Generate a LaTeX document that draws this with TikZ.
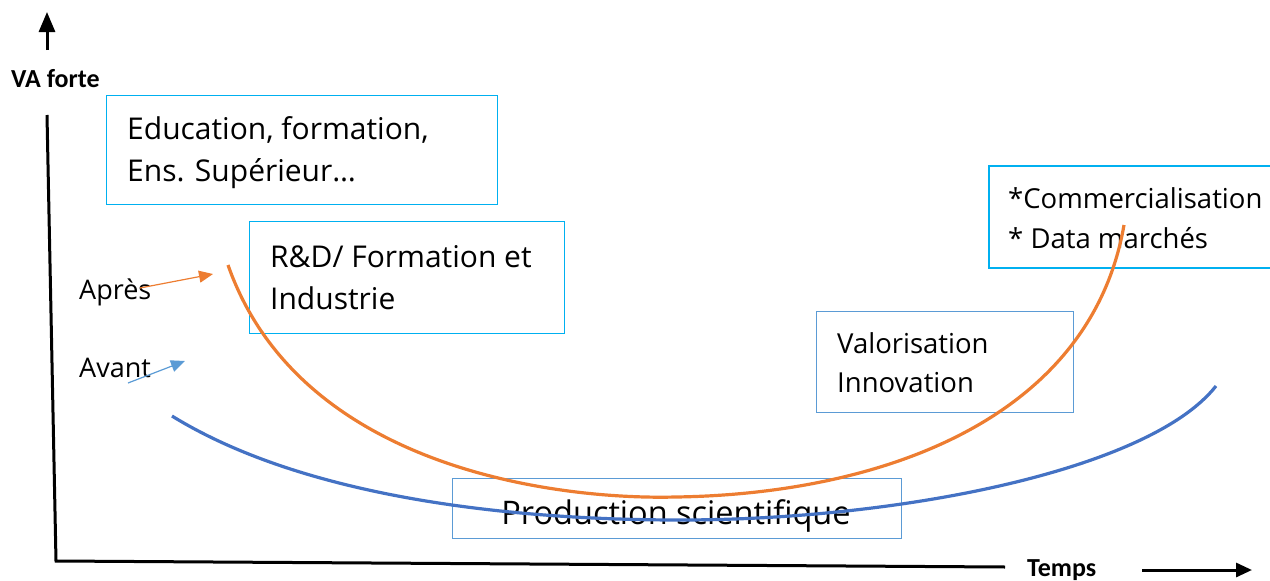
\documentclass[tikz,border=0pt]{standalone}
\usepackage{fontspec}
\setmainfont{Open Sans}
\newfontfamily\calfont{Carlito}
\usetikzlibrary{arrows.meta}
\definecolor{boxcyan}{RGB}{0,176,240}
\definecolor{prodblue}{RGB}{91,155,213}
\definecolor{curveorange}{RGB}{237,125,49}
\definecolor{curveblue}{RGB}{68,114,196}
\begin{document}
\begin{tikzpicture}[x=1pt,y=-1pt,
  box/.style={draw=boxcyan,line width=1.3pt,minimum width=#1,inner sep=0pt,anchor=north west},
  txt/.style={anchor=base west,inner sep=0pt,font=\fontsize{30}{34}\selectfont},
  stxt/.style={anchor=base west,inner sep=0pt,font=\fontsize{27.5}{32}\selectfont},
  ltxt/.style={anchor=base west,inner sep=0pt,font=\fontsize{27}{31}\selectfont},
  axis/.style={line width=3pt,black},
  bold/.style={anchor=base west,inner sep=0pt,font=\calfont\bfseries\fontsize{26}{30}\selectfont}]
\useasboundingbox (0,0) rectangle (1270,581);
% axes
\coordinate (ytop) at (47,115);
\coordinate (orig) at (56,561);
\coordinate (xend) at (1005,567);
\draw[axis] (ytop) -- (orig) -- (xend);
\coordinate (va1) at (47,50);
\coordinate (va2) at (47,12);
\draw[axis,-{Triangle[length=20pt,width=16pt]}] (va1) -- (va2);
\node[bold] (vaforte) at (11,87) {VA forte};
\node[bold] (temps) at (1027,576) {Temps};
\coordinate (t1) at (1142,570);
\coordinate (t2) at (1252,570);
\draw[axis,-{Triangle[length=16pt,width=14pt]}] (t1) -- (t2);
% boxes
\node[box=391pt,minimum height=109pt] (edubox) at (106,95) {};
\node[txt] (edu1) at (127,139) {Education, formation,};
\node[txt] (edu2) at (127,181) {Ens. Supérieur…};
\node[box=315pt,minimum height=112pt] (rdbox) at (249,221) {};
\node[txt] (rd1) at (270,267) {R\&D/ Formation et};
\node[txt] (rd2) at (270,309) {Industrie};
\draw[boxcyan,line width=1.3pt] (1275,166) -- (989,166) -- (989,268) -- (1275,268);
\coordinate (combox) at (989,166);
\node[stxt] (com1) at (1008,208) {*Commercialisation};
\node[stxt] (com2) at (1008,248) {* Data marchés};
\node[box=257pt,minimum height=101pt,draw=prodblue] (valbox) at (816,311) {};
\node[stxt] (val1) at (837,353) {Valorisation};
\node[stxt] (val2) at (837,392) {Innovation};
\node[box=449pt,minimum height=60pt,draw=prodblue] (prodbox) at (452,478) {};
% curves
\coordinate (o1) at (228,265);
\coordinate (o2) at (676,497);
\coordinate (o3) at (1124,225);
\draw[curveorange,line width=3.2pt] (o1) .. controls (300,470) and (560,500) .. (o2)
  .. controls (880,494) and (1090,420) .. (o3);
\node[font=\fontsize{32.5}{38}\selectfont,inner sep=0pt,anchor=base] (prod) at (676,524) {Production scientifique};
\coordinate (b1) at (172,416);
\coordinate (b2) at (680,520);
\coordinate (b3) at (1216,386);
\draw[curveblue,line width=3.2pt] (b1) .. controls (300,495) and (500,520) .. (b2)
  .. controls (900,520) and (1150,470) .. (b3);
% labels and small arrows
\node[ltxt] (apres) at (79,299) {Après};
\node[ltxt] (avant) at (79,377) {Avant};
\coordinate (a1) at (140,288);
\coordinate (a2) at (213,274);
\draw[curveorange,line width=1.2pt,-{Triangle[length=14pt,width=12pt]}] (a1) -- (a2);
\coordinate (v1) at (128,383);
\coordinate (v2) at (185,361);
\draw[prodblue,line width=1.2pt,-{Triangle[length=14pt,width=12pt]}] (v1) -- (v2);
\end{tikzpicture}
\end{document}
